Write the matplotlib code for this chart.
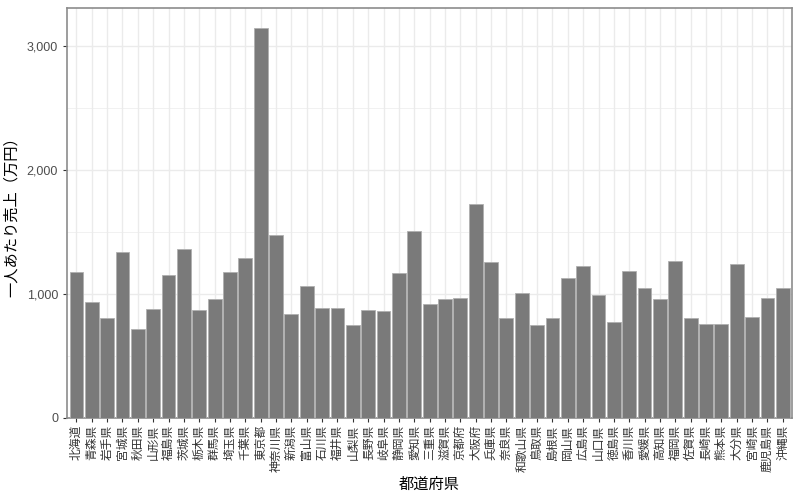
import matplotlib
matplotlib.use("Agg")
import matplotlib.pyplot as plt
from matplotlib.ticker import FuncFormatter

plt.rcParams['font.family'] = ['Noto Sans CJK JP', 'DejaVu Sans']

# 都道府県と一人あたり売上（万円）
prefs = ["北海道", "青森県", "岩手県", "宮城県", "秋田県", "山形県", "福島県",
         "茨城県", "栃木県", "群馬県", "埼玉県", "千葉県", "東京都", "神奈川県",
         "新潟県", "富山県", "石川県", "福井県", "山梨県", "長野県", "岐阜県",
         "静岡県", "愛知県", "三重県", "滋賀県", "京都府", "大阪府", "兵庫県",
         "奈良県", "和歌山県", "鳥取県", "島根県", "岡山県", "広島県", "山口県",
         "徳島県", "香川県", "愛媛県", "高知県", "福岡県", "佐賀県", "長崎県",
         "熊本県", "大分県", "宮崎県", "鹿児島県", "沖縄県"]
sales = [1180, 933, 804, 1341, 718, 876, 1151,
         1360, 874, 957, 1175, 1288, 3150, 1478,
         839, 1067, 884, 884, 748, 873, 866,
         1167, 1505, 919, 962, 970, 1726, 1258,
         809, 1005, 752, 806, 1127, 1223, 995,
         777, 1185, 1046, 957, 1266, 809, 758,
         758, 1239, 817, 965, 1046]
yticks = [0, 1000, 2000, 3000]

fig = plt.figure(figsize=(8, 5), dpi=100)
ax = fig.add_axes([0.084, 0.164, 0.906, 0.82])

x = list(range(1, len(prefs) + 1))
ax.bar(x, sales, width=0.9, color='#7a7a7a', edgecolor='#b0b0b0', linewidth=0.6, zorder=3)

ax.set_xlim(0.4, len(prefs) + 0.6)
ax.set_ylim(0, max(sales) * 1.05)
ax.set_yticks(yticks)
ax.set_yticks([500, 1500, 2500], minor=True)
ax.yaxis.set_major_formatter(FuncFormatter(lambda v, p: f"{int(v):,}"))
ax.set_xticks(x)
ax.set_xticklabels(prefs, rotation=90, fontsize=8.5, color='#333333',
                   ha='center', va='top')
for lab in ax.get_yticklabels():
    lab.set_family(['Liberation Sans', 'DejaVu Sans'])

ax.grid(True, which='major', color='#ebebeb', linewidth=1.0, zorder=0)
ax.grid(True, which='minor', axis='y', color='#ebebeb', linewidth=0.5, zorder=0)
ax.set_axisbelow(True)
for s in ax.spines.values():
    s.set_color('#8c8c8c')
    s.set_linewidth(1.2)
ax.tick_params(axis='both', which='major', length=3, color='#333333')
ax.tick_params(axis='x', pad=2)
ax.tick_params(axis='y', which='minor', length=0)
ax.tick_params(axis='y', labelsize=9, labelcolor='#4d4d4d')

ax.set_xlabel("都道府県", fontsize=11, labelpad=3)
ax.set_ylabel("一人あたり売上（万円）", fontsize=11, labelpad=5)

fig.savefig("out.png", dpi=100, facecolor='white')
